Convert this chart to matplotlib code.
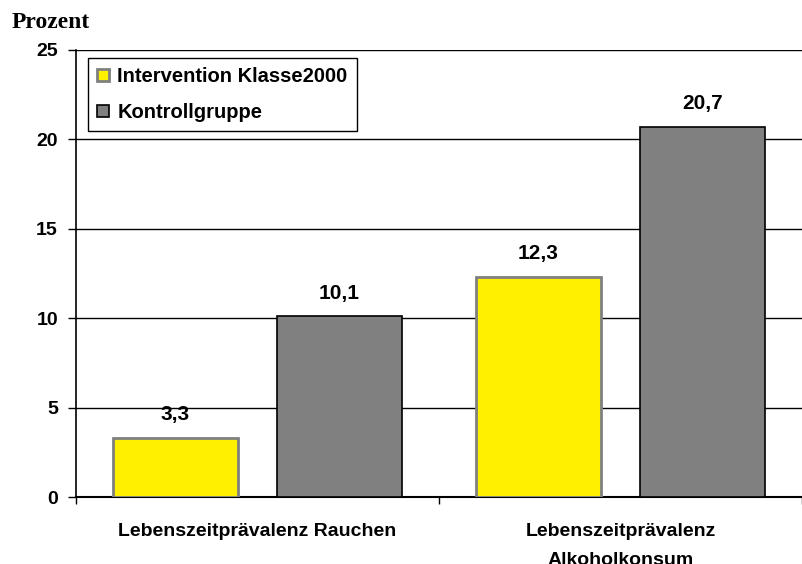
import matplotlib.pyplot as plt
import numpy as np

categories = ["Lebenszeitprävalenz Rauchen", "Lebenszeitprävalenz\nAlkoholkonsum"]
series_names = ["Intervention Klasse2000", "Kontrollgruppe"]
intervention = [3.3, 12.3]
kontrolle = [10.1, 20.7]
y_ticks = [0, 5, 10, 15, 20, 25]

plt.rcParams['font.family'] = ['Liberation Sans', 'DejaVu Sans']

fig = plt.figure(figsize=(8.02, 5.64), dpi=100)
ax = fig.add_axes([76 / 802, 1 - 497 / 564, 1 - 76 / 802, (497 - 50) / 564])

x = np.arange(len(categories))
w = 0.343
off = 0.226

b1 = ax.bar(x - off, intervention, w, color="#FFF000", edgecolor="#808080",
            linewidth=2, label=series_names[0], zorder=3)
b2 = ax.bar(x + off, kontrolle, w, color="#808080", edgecolor="black",
            linewidth=1.2, label=series_names[1], zorder=3)

for bars, vals in [(b1, intervention), (b2, kontrolle)]:
    for rect, v in zip(bars, vals):
        ax.annotate(f"{v:.1f}".replace(".", ","),
                    (rect.get_x() + rect.get_width() / 2, v),
                    xytext=(0, 10), textcoords="offset points",
                    ha="center", va="bottom", fontsize=15, fontweight="bold")

ax.set_xlim(-0.5, (802 - 76) / 367 - 0.5)
ax.set_ylim(0, 25)
ax.set_yticks(y_ticks)
ax.set_yticklabels([str(t) for t in y_ticks], fontsize=14, fontweight="bold")
ax.tick_params(axis="y", length=6, width=1, pad=7)

ax.set_xticks([-0.5, 0.5, 1.5])
ax.set_xticklabels([])
ax.tick_params(axis="x", which="major", length=5, width=1)
ax.set_xticks(x, minor=True)
ax.set_xticklabels(categories, minor=True, fontsize=14, fontweight="bold",
                   linespacing=1.9, va="top")
ax.tick_params(axis="x", which="minor", length=0, pad=19)

ax.yaxis.grid(True, color="black", linewidth=1)
ax.set_axisbelow(True)
for s in ["top", "right"]:
    ax.spines[s].set_visible(False)
ax.spines["left"].set_linewidth(1.2)
ax.spines["bottom"].set_linewidth(1.5)

leg = ax.legend(loc="upper left", bbox_to_anchor=((88 - 76) / 726, 1 - 8 / 447),
                prop={"weight": "bold", "size": 14.5},
                fancybox=False, shadow=False, framealpha=1, edgecolor="black",
                handlelength=0.6, handleheight=0.6, handletextpad=0.4,
                borderpad=0.45, labelspacing=0.85, borderaxespad=0)
leg.get_frame().set_linewidth(1)

fig.text(12 / 802, 1 - 22 / 564, "Prozent", family="Liberation Serif",
         fontweight="bold", fontsize=17, va="center", ha="left")

fig.savefig("out.png", dpi=100)
